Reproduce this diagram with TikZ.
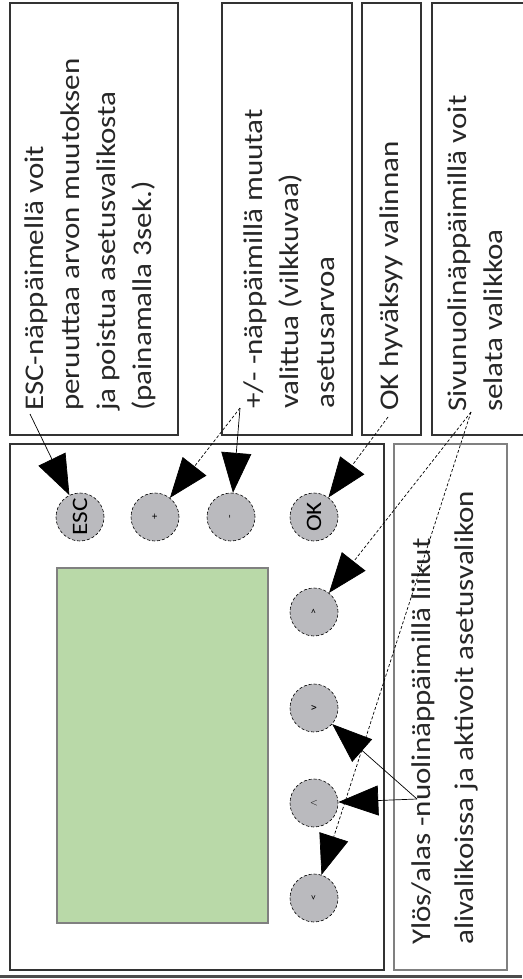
\documentclass[tikz,border=0pt]{standalone}
\usepackage{fontspec}
\usepackage{graphicx}
\usepackage{tikz}
\usetikzlibrary{arrows.meta, positioning}
\newfontfamily\lbl[FakeStretch=1.15]{Carlito}
\definecolor{screen}{RGB}{185,217,168}
\definecolor{key}{RGB}{186,186,190}

\begin{document}
\begin{tikzpicture}[x=1pt,y=-1pt,on grid,
    box/.style={draw=black!80,line width=2pt},
    btn/.style={circle,draw,densely dashed,line width=0.6pt,fill=key,minimum size=48pt,inner sep=0pt,font=\lbl\fontsize{10}{12}\selectfont},
    note/.style={rotate=90,anchor=north west,inner sep=0pt,align=left,text=black!85,font=\lbl\fontsize{27}{36}\selectfont},
    pointer/.style={-{Triangle[length=40pt,width=30pt]},line width=0.7pt}]
    \useasboundingbox (0,0) rectangle (522,979);
    % frames
    \draw[box] (10,3) rectangle (178,435);
    \draw[box] (222,3) rectangle (352,435);
    \draw[box] (362,3) rectangle (421,435);
    \draw[box] (432,3) rectangle (530,435);
    \draw[box] (10,444) rectangle (384,970);
    \draw[box,draw=gray] (394,444) rectangle (507,970);
    \draw[line width=3pt,black!70] (0,976) -- (522,976);
    % display
    \draw[draw=gray,line width=1.5pt,fill=screen] (57,568) rectangle (268,923);
    % keys
    \node[btn] (b_esc) at (80,517) {\rotatebox{90}{\fontsize{22}{22}\selectfont ESC}};
    \node[btn] (b_plus) [right=75pt of b_esc] {\rotatebox{90}{+}};
    \node[btn] (b_minus) [right=76pt of b_plus] {\rotatebox{90}{-}};
    \node[btn] (b_ok) [right=83pt of b_minus] {\rotatebox{90}{\fontsize{22}{22}\selectfont OK}};
    \node[btn] (b_right) [below=95pt of b_ok] {\rotatebox{90}{>}};
    \node[btn] (b_down) [below=96pt of b_right] {\rotatebox{90}{v}};
    \node[btn] (b_up) [below=95pt of b_down] {\rotatebox{90}{$\wedge$}};
    \node[btn] (b_left) [below=95pt of b_up] {\rotatebox{90}{<}};
    % texts
    \node[note] (t_esc) at (18,411) {\strut ESC-näppäimellä voit\\peruuttaa arvon muutoksen\\ja poistua asetusvalikosta\\(painamalla 3sek.)};
    \node[note] (t_pm) at (237,409) {\strut +/- -näppäimillä muutat\\valittua (vilkkuvaa)\\asetusarvoa};
    \node[note] (t_ok) at (373,411) {\strut OK hyväksyy valinnan};
    \node[note] (t_side) at (441,412) {\strut Sivunuolinäppäimillä voit\\selata valikkoa};
    \node[note,font=\lbl\fontsize{27}{43}\selectfont] (t_updown) at (400,945) {\strut Ylös/alas -nuolinäppäimillä liikut\\alivalikoissa ja aktivoit asetusvalikon};
    % pointers
    \coordinate (s_esc) at (30,414);
    \coordinate (s_pm) at (240,408);
    \coordinate (s_ok) at (388,417);
    \coordinate (s_side) at (471,412);
    \coordinate (s_ud) at (417,799);
    \path[pointer]
    (s_esc) edge (b_esc)
    (s_pm) edge [densely dashed] (b_plus)
      edge (b_minus)
    (s_ok) edge [densely dashed] (b_ok)
    (s_side) edge [densely dashed] (b_right)
      edge [densely dashed] (b_left)
    (s_ud) edge (b_down)
      edge (b_up);
\end{tikzpicture}
\end{document}
